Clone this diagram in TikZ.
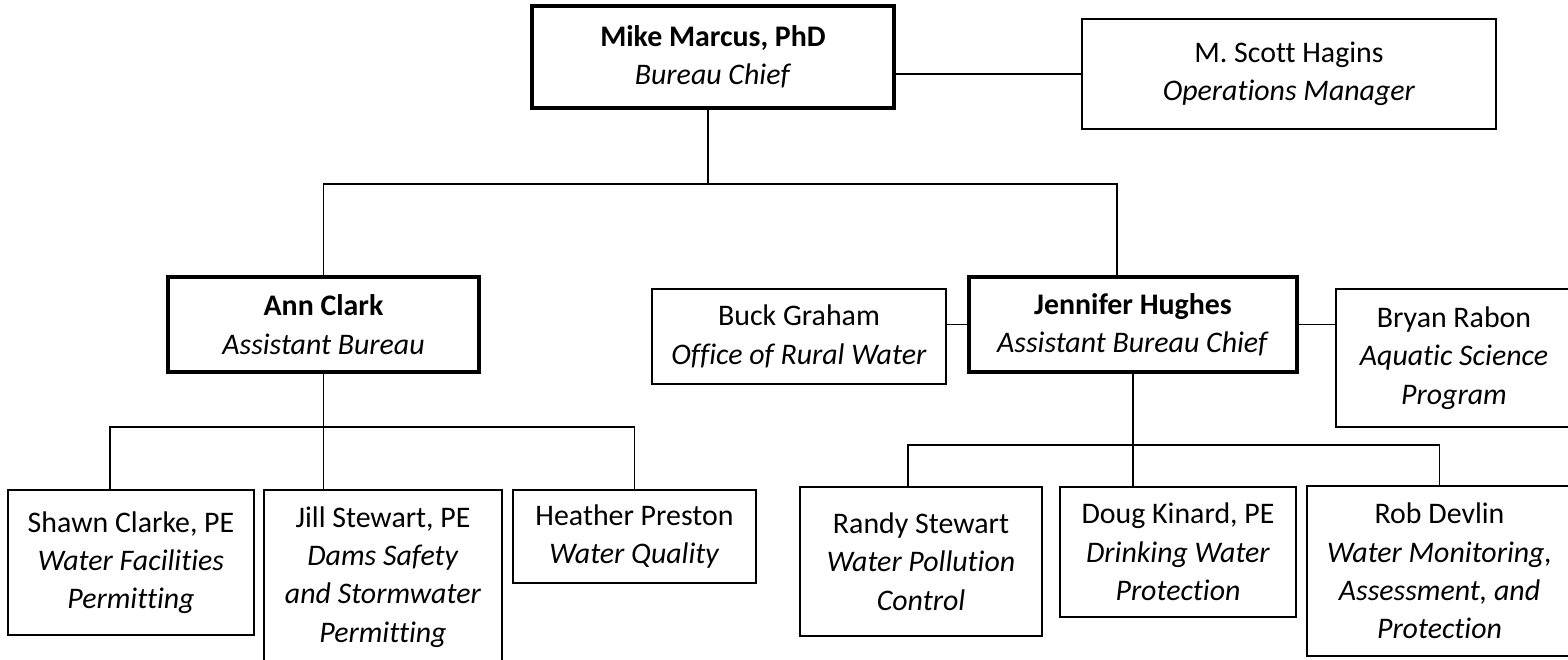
\documentclass[tikz,border=0pt]{standalone}
\usepackage{fontspec}
\setmainfont{Carlito}[Ligatures=NoCommon]
\usetikzlibrary{calc}
\def\orgbox[#1](#2)(#3,#4,#5,#6)#7{\node[#1, minimum width={(#5-#3)*0.02cm}, minimum height={(#6-#4)*0.02cm}] (#2) at ({(#3+#5)/2}, {(#4+#6)/2}) {#7};}
\tikzset{
	staff/.style={draw, line width=0.85pt, align=center, inner sep=2pt, font=\fontsize{17}{21.8}\selectfont},
	chief/.style={staff, line width=2.3pt},
	link/.style={line width=0.85pt}
}
\begin{document}
\begin{tikzpicture}[x=0.02cm, y=-0.02cm]
		%%%%% START %%%%%
		\useasboundingbox (0, 0) rectangle (1568, 659);
		
		\orgbox[chief](mike)(532,6,894,108){\textbf{Mike Marcus, PhD}\\\textit{Bureau Chief}}
		\orgbox[staff](ops)(1082,19,1496,129){M. Scott Hagins\\\textit{Operations Manager}}
		
		\orgbox[chief](ann)(168,277,479,372){\textbf{Ann Clark}\\\textit{Assistant Bureau}}
		\orgbox[staff](buck)(652,289,946,384){Buck Graham\\\textit{Office of Rural Water}}
		\orgbox[chief](jen)(969,277,1297,372){\textbf{Jennifer Hughes}\\\textit{Assistant Bureau Chief}}
		\orgbox[staff](bryan)(1336,289,1572,427){Bryan Rabon\\\textit{Aquatic Science}\\\textit{Program}}
		
		\orgbox[staff](shawn)(8,490,254,635){Shawn Clarke, PE\\\textit{Water Facilities}\\\textit{Permitting}}
		\orgbox[staff](jill)(264,490,502,664){Jill Stewart, PE\\\textit{Dams Safety}\\\textit{and Stormwater}\\\textit{Permitting}}
		\orgbox[staff](heather)(513,490,756,583){Heather Preston\\\textit{Water Quality}}
		
		\orgbox[staff](randy)(800,487,1042,636){Randy Stewart\\\textit{Water Pollution}\\\textit{Control}}
		\orgbox[staff](doug)(1060,487,1296,617){Doug Kinard, PE\\\textit{Drinking Water}\\\textit{Protection}}
		\orgbox[staff](rob)(1307,486,1572,656){Rob Devlin\\\textit{Water Monitoring,}\\\textit{Assessment, and}\\\textit{Protection}}
		
		\draw[link] (ops.west) -- (ops.west -| mike.east);
		\draw[link] ([xshift=-0.1cm]mike.south) -- ([xshift=-0.1cm]mike.south |- 0,184) coordinate (mbus);
		\draw[link] (ann.north) |- (mbus) -| ([xshift=-0.32cm]jen.north);
		
		\draw[link] (ann.south) -- (ann.south |- jill.north);
		\draw[link] ([xshift=-0.42cm]shawn.north) |- (heather.north |- 0,427) -- (heather.north);
		
		\draw[link] (jen.west) -- (jen.west -| buck.east);
		\draw[link] (jen.east) -- (jen.east -| bryan.west);
		\draw[link] (jen.south) -- (jen.south |- doug.north);
		\draw[link] ([xshift=-0.26cm]randy.north) |- (rob.north |- 0,445) -- (rob.north);
		%%%%% END %%%%%
\end{tikzpicture}
\end{document}
